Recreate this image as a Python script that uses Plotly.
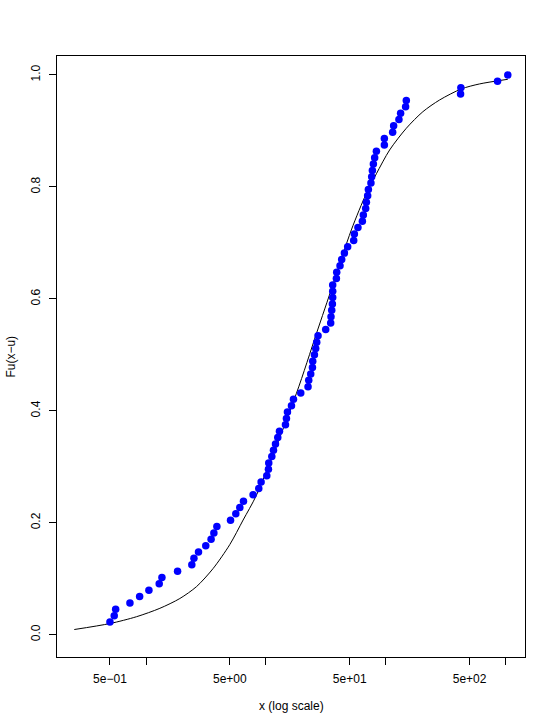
import plotly.graph_objects as go

point_x = [0.5, 0.543, 0.558, 0.734, 0.884, 1.057, 1.288, 1.357, 1.833, 2.41,
           2.51, 2.74, 3.15, 3.49, 3.68, 3.90, 5.07, 5.61, 6.06, 6.50,
           7.82, 8.72, 9.12, 10.17, 10.5, 10.56, 11.2, 11.57, 12.02, 12.56,
           12.98, 14.56, 14.84, 15.13, 16.34, 16.98, 19.53, 22.47, 22.77, 23.66,
           24.45, 24.59, 25.4, 26.04, 26.55, 27.22, 31.55, 34.72, 34.92, 35.4,
           35.87, 36.08, 36.08, 36.08, 38.74, 38.96, 41.52, 42.89, 45.17, 48.11,
           53.99, 54.7, 58.6, 63.8, 65.0, 68.0, 68.9, 70.6, 71.6, 75.2,
           76.3, 77.3, 78.8, 80.8, 83.5, 97.3, 97.3, 114.1, 116.3, 128.8,
           133.0, 146.4, 148.4, 420.7, 423.2, 855.6, 1042.6]
point_y = [0.0227, 0.0341, 0.0455, 0.0568, 0.0682, 0.0795, 0.0909, 0.1023, 0.1136, 0.1250,
           0.1364, 0.1477, 0.1591, 0.1705, 0.1818, 0.1932, 0.2045, 0.2159, 0.2273, 0.2386,
           0.2500, 0.2614, 0.2727, 0.2841, 0.2955, 0.3068, 0.3182, 0.3295, 0.3409, 0.3523,
           0.3636, 0.3750, 0.3864, 0.3977, 0.4091, 0.4205, 0.4318, 0.4432, 0.4545, 0.4659,
           0.4773, 0.4886, 0.5000, 0.5114, 0.5227, 0.5341, 0.5455, 0.5568, 0.5682, 0.5795,
           0.5909, 0.6023, 0.6136, 0.6250, 0.6364, 0.6477, 0.6591, 0.6705, 0.6818, 0.6932,
           0.7045, 0.7159, 0.7273, 0.7386, 0.7500, 0.7614, 0.7727, 0.7841, 0.7955, 0.8068,
           0.8182, 0.8295, 0.8409, 0.8523, 0.8636, 0.8750, 0.8864, 0.8977, 0.9091, 0.9205,
           0.9318, 0.9432, 0.9545, 0.9659, 0.9773, 0.9886, 1.0000]

# Fitted CDF curve
curve_x = [0.252, 0.5, 0.834, 1.305, 1.915, 2.639, 3.628, 5.0, 6.455, 8.35,
           17.98, 26.4, 36.29, 51.6, 68.9, 83.5, 107.7, 148.4, 204, 281,
           426, 606, 1042.6]
curve_y = [0.0093, 0.020, 0.0322, 0.0472, 0.0647, 0.0860, 0.1183, 0.1611, 0.2049, 0.2496,
           0.4313, 0.5381, 0.6257, 0.7231, 0.7886, 0.8235, 0.866, 0.9048, 0.9344, 0.9553,
           0.975, 0.984, 0.9923]

x_tickvals = [0.5, 1, 5, 10, 50, 100, 500, 1000]
x_ticktext = ["5e\u221201", "", "5e+00", "", "5e+01", "", "5e+02", ""]
y_tickvals = [0.0, 0.2, 0.4, 0.6, 0.8, 1.0]
y_ticktext = ["0.0", "0.2", "0.4", "0.6", "0.8", "1.0"]

FONT = "Liberation Sans, Arial, Helvetica, sans-serif"

fig = go.Figure()
fig.add_trace(go.Scatter(x=curve_x, y=curve_y, mode="lines",
                         line=dict(color="black", width=1, shape="spline", smoothing=0.8),
                         hoverinfo="skip", showlegend=False))
fig.add_trace(go.Scatter(x=point_x, y=point_y, mode="markers",
                         marker=dict(color="#0000ff", size=7.5, line=dict(width=0)),
                         showlegend=False))

fig.update_layout(
    width=555, height=728,
    margin=dict(l=57, r=29.5, t=56, b=71),
    paper_bgcolor="white", plot_bgcolor="white",
    font=dict(family=FONT, size=12, color="black"),
    xaxis=dict(type="log", range=[-0.7427, 3.1615],
               tickvals=x_tickvals, ticktext=x_ticktext,
               ticks="outside", ticklen=7, tickwidth=1, tickcolor="black",
               showline=True, linecolor="black", linewidth=1, mirror=True,
               showgrid=False, zeroline=False, ticklabelstandoff=4),
    yaxis=dict(range=[-0.0398, 1.0339],
               tickvals=y_tickvals, ticktext=y_ticktext, tickangle=-90,
               ticks="outside", ticklen=7, tickwidth=1, tickcolor="black",
               showline=True, linecolor="black", linewidth=1, mirror=True,
               showgrid=False, zeroline=False, ticklabelstandoff=4),
    annotations=[
        dict(text="x (log scale)", xref="paper", yref="paper",
             x=0.5, y=-0.0815, xanchor="center", yanchor="middle",
             showarrow=False, font=dict(size=12)),
        dict(text="Fu(x\u2212u)", xref="paper", yref="paper",
             x=-0.1003, y=0.5, xanchor="center", yanchor="middle",
             textangle=-90, showarrow=False, font=dict(size=12)),
    ],
)

# remove the browser's default 8px body margin so the figure fills the window
fig.write_html("out.html",
               config={"displayModeBar": False},
               post_script="document.body.style.margin='0';document.body.style.padding='0';")
